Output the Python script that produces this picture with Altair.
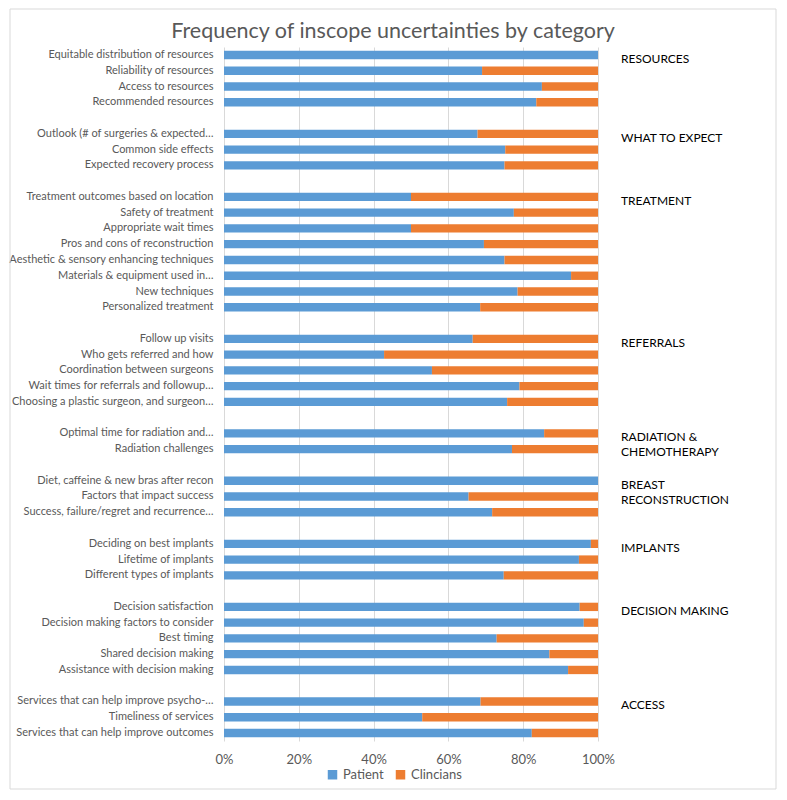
import altair as alt
import pandas as pd

items = [
    "Equitable distribution of resources", "Reliability of resources", "Access to resources", "Recommended resources",
    " ",
    "Outlook (# of surgeries & expected…", "Common side effects", "Expected recovery process",
    "  ",
    "Treatment outcomes based on location", "Safety of treatment", "Appropriate wait times",
    "Pros and cons of reconstruction", "Aesthetic & sensory enhancing techniques", "Materials & equipment used in…",
    "New techniques", "Personalized treatment",
    "   ",
    "Follow up visits", "Who gets referred and how", "Coordination between surgeons",
    "Wait times for referrals and followup…", "Choosing a plastic surgeon, and surgeon…",
    "    ",
    "Optimal time for radiation and…", "Radiation challenges",
    "     ",
    "Diet, caffeine & new bras after recon", "Factors that impact success", "Success, failure/regret and recurrence…",
    "      ",
    "Deciding on best implants", "Lifetime of implants", "Different types of implants",
    "       ",
    "Decision satisfaction", "Decision making factors to consider", "Best timing", "Shared decision making",
    "Assistance with decision making",
    "        ",
    "Services that can help improve psycho-…", "Timeliness of services", "Services that can help improve outcomes",
]

# Patient share (%) per item, None for spacer rows
patient = [
    100, 69, 85, 83.5,
    None,
    67.8, 75.2, 75,
    None,
    50, 77.5, 50, 69.5, 75, 92.8, 78.5, 68.5,
    None,
    66.5, 42.8, 55.6, 79, 75.7,
    None,
    85.6, 77,
    None,
    100, 65.4, 71.7,
    None,
    98.1, 94.9, 74.8,
    None,
    95.1, 96.2, 72.9, 87, 92,
    None,
    68.6, 53, 82.3,
]
clinicians = [
    0, 31, 15, 16.5,
    None,
    32.2, 24.8, 25,
    None,
    50, 22.5, 50, 30.5, 25, 7.2, 21.5, 31.5,
    None,
    33.5, 57.2, 44.4, 21, 24.3,
    None,
    14.4, 23,
    None,
    0, 34.6, 28.3,
    None,
    1.9, 5.1, 25.2,
    None,
    4.9, 3.8, 27.1, 13, 8,
    None,
    31.4, 47, 17.7,
]

groups = ["RESOURCES", "WHAT TO EXPECT", "TREATMENT", "REFERRALS", "RADIATION &\nCHEMOTHERAPY",
          "BREAST\nRECONSTRUCTION", "IMPLANTS", "DECISION MAKING", "ACCESS"]
group_anchor = ["Equitable distribution of resources", "Outlook (# of surgeries & expected…",
                "Treatment outcomes based on location", "Follow up visits", "Optimal time for radiation and…",
                "Diet, caffeine & new bras after recon", "Deciding on best implants", "Decision satisfaction",
                "Services that can help improve psycho-…"]

title_text = "Frequency of inscope uncertainties by category"

rows = []
for it, p, c in zip(items, patient, clinicians):
    if p is None:
        continue
    rows.append({"item": it, "series": "Patient", "value": p, "ord": 0})
    rows.append({"item": it, "series": "Clincians", "value": c, "ord": 1})
df = pd.DataFrame(rows)
gdf = pd.DataFrame({"item": group_anchor, "label": groups})

W, H = 374, 694
FONT = "Lato"

yscale = alt.Scale(domain=items, paddingInner=0.47, paddingOuter=0.24)

bars = alt.Chart(df).mark_bar().encode(
    x=alt.X("value:Q", stack="normalize",
            scale=alt.Scale(domain=[0, 1], nice=False),
            axis=alt.Axis(format="%", values=[0, 0.2, 0.4, 0.6, 0.8, 1.0], title=None,
                          grid=True, gridColor="#d9d9d9", domain=False, ticks=False, labelFlush=False,
                          labelFontSize=13, labelColor="#595959", labelPadding=12, labelFont=FONT)),
    y=alt.Y("item:N", scale=yscale, sort=items,
            axis=alt.Axis(title=None, domain=False, ticks=False, labelFontSize=11,
                          labelColor="#595959", labelPadding=11, labelFont=FONT, labelLimit=300)),
    color=alt.Color("series:N",
                    scale=alt.Scale(domain=["Patient", "Clincians"], range=["#5B9BD5", "#ED7D31"]),
                    legend=alt.Legend(title=None, orient="none", direction="horizontal",
                                      legendX=102, legendY=721, symbolType="square", symbolSize=90,
                                      labelFontSize=13, labelColor="#595959", labelFont=FONT,
                                      columnPadding=10, symbolOffset=0)),
    order=alt.Order("ord:Q"),
)

glabels = alt.Chart(gdf).mark_text(align="left", baseline="top", dy=-1, fontSize=12,
                                   font=FONT, color="#000000", lineBreak="\n", lineHeight=15).encode(
    x=alt.value(W + 23),
    y=alt.Y("item:N", scale=yscale, sort=items),
    text="label:N",
)

title = alt.Chart(pd.DataFrame({"t": [title_text]})).mark_text(
    align="center", baseline="middle", fontSize=21.5, font=FONT, color="#595959"
).encode(x=alt.value(W / 2 - 18), y=alt.value(-15), text="t:N")

border = alt.Chart(pd.DataFrame({"a": [0]})).mark_rect(fill=None, stroke="#d9d9d9", strokeWidth=1).encode(
    x=alt.value(-214), x2=alt.value(W + 178), y=alt.value(-38), y2=alt.value(H + 48)
)

chart = alt.layer(bars, glabels, title, border).properties(
    width=W, height=H,
    autosize=alt.AutoSizeParams(type="none"),
    padding={"left": 216, "top": 39, "right": 181, "bottom": 51},
).configure_view(stroke=None)

chart.save("out.html", embed_options={"renderer": "svg", "actions": False})
